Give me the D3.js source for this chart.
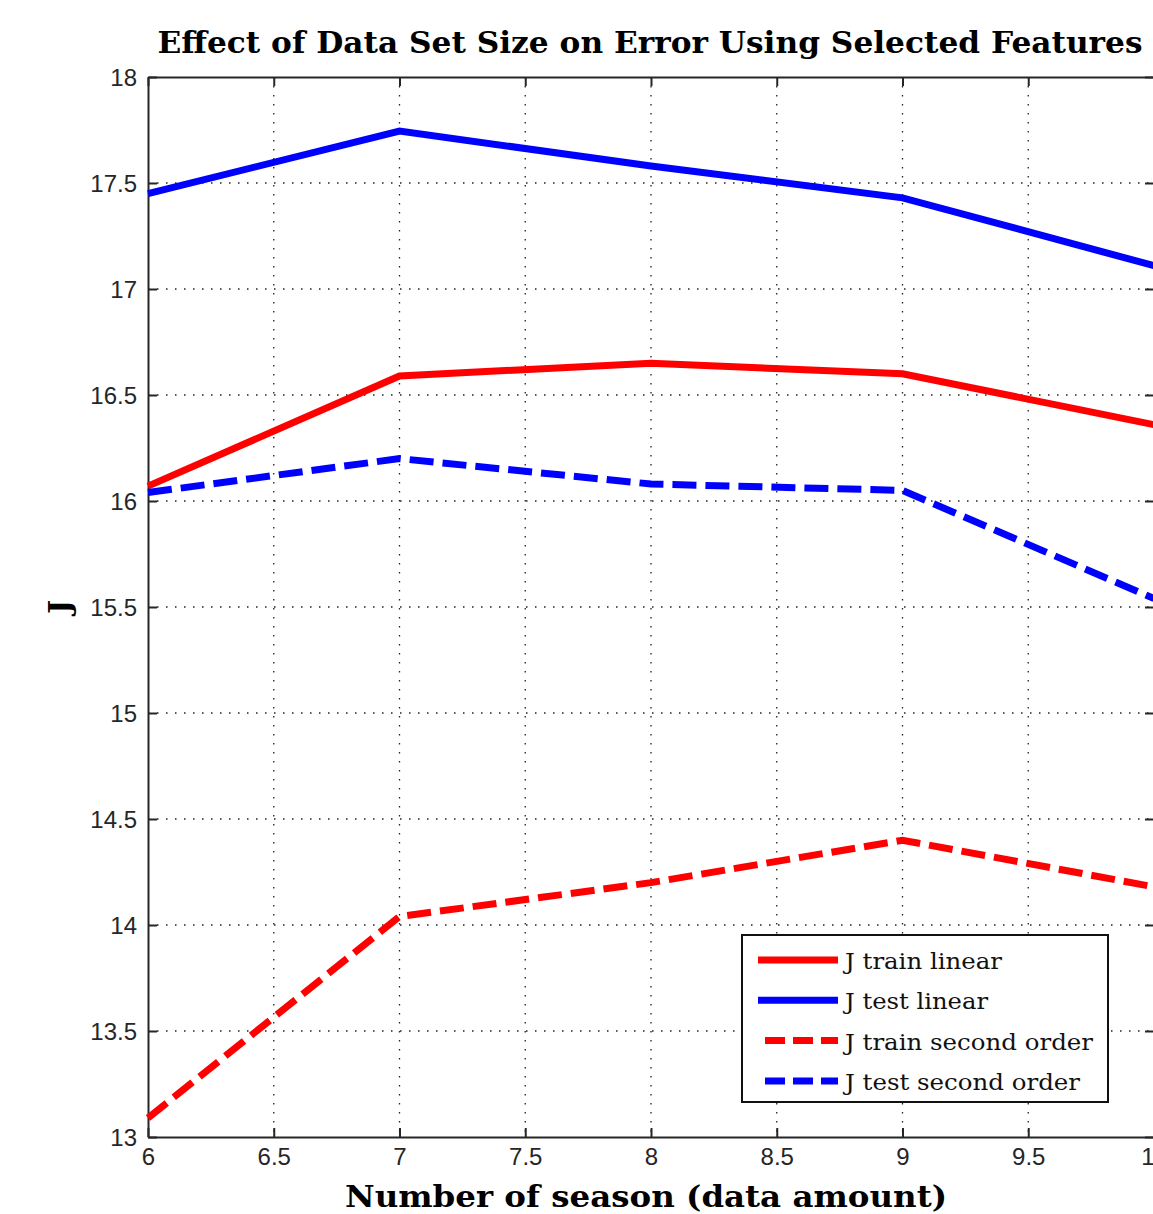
<!DOCTYPE html>
<html>
<head>
<meta charset="utf-8">
<script src="https://cdn.jsdelivr.net/npm/d3@7"></script>
<style>
  html, body { margin: 0; padding: 0; background: #fff; overflow: hidden; }
  svg { display: block; }
</style>
</head>
<body>
<svg id="chart" width="1153" height="1214"></svg>
<script>
// ---- data ----
const seasons = [6, 7, 8, 9, 10];
const jTrainLinear = [16.07, 16.59, 16.65, 16.60, 16.36];
const jTestLinear = [17.45, 17.745, 17.58, 17.43, 17.11];
const jTrainSecond = [13.09, 14.04, 14.20, 14.40, 14.18];
const jTestSecond = [16.04, 16.20, 16.08, 16.05, 15.54];
const seriesNames = ["J train linear", "J test linear", "J train second order", "J test second order"];
const xTicks = [6, 6.5, 7, 7.5, 8, 8.5, 9, 9.5, 10];
const yTicks = [13, 13.5, 14, 14.5, 15, 15.5, 16, 16.5, 17, 17.5, 18];
const titleText = "Effect of Data Set Size on Error Using Selected Features";
const xLabel = "Number of season (data amount)";
const yLabel = "J";

const series = [
  { name: seriesNames[0], values: jTrainLinear, color: "#ff0000", dash: null },
  { name: seriesNames[1], values: jTestLinear, color: "#0000ff", dash: null },
  { name: seriesNames[2], values: jTrainSecond, color: "#ff0000", dash: "24,9" },
  { name: seriesNames[3], values: jTestSecond, color: "#0000ff", dash: "24,9" }
];

const svg = d3.select("#chart");
const L = 148, R = 1154, T = 77, B = 1137;
const x = d3.scaleLinear().domain([6, 10]).range([L, R]);
const y = d3.scaleLinear().domain([13, 18]).range([B, T]);

// grid
const grid = svg.append("g").attr("stroke", "#222").attr("stroke-width", 1.3).attr("stroke-dasharray", "1.5,7.5");
grid.selectAll(".gx").data(xTicks.slice(1, -1)).join("line")
  .attr("x1", d => x(d)).attr("x2", d => x(d)).attr("y1", T).attr("y2", B);
grid.selectAll(".gy").data(yTicks.slice(1, -1)).join("line")
  .attr("y1", d => y(d)).attr("y2", d => y(d)).attr("x1", L).attr("x2", R);

// axes with inward ticks
const axStyle = g => {
  g.select(".domain").attr("stroke", "#262626").attr("stroke-width", 2);
  g.selectAll(".tick line").attr("stroke", "#262626").attr("stroke-width", 2);
  g.selectAll(".tick text").attr("fill", "#262626")
    .attr("font-family", "'Liberation Sans', Arial, sans-serif").attr("font-size", 24);
};
svg.append("g").attr("transform", `translate(0,${B})`)
  .call(d3.axisBottom(x).tickValues(xTicks).tickFormat(d3.format("")).tickSizeInner(-9).tickSizeOuter(0).tickPadding(11))
  .call(axStyle);
svg.append("g").attr("transform", `translate(0,${T})`)
  .call(d3.axisTop(x).tickValues(xTicks).tickFormat("").tickSizeInner(-9).tickSizeOuter(0))
  .call(axStyle);
svg.append("g").attr("transform", `translate(${L},0)`)
  .call(d3.axisLeft(y).tickValues(yTicks).tickFormat(d3.format("")).tickSizeInner(-9).tickSizeOuter(0).tickPadding(11))
  .call(axStyle)
  .selectAll(".tick text").attr("dy", "0.36em");
svg.append("g").attr("transform", `translate(${R},0)`)
  .call(d3.axisRight(y).tickValues(yTicks).tickFormat("").tickSizeInner(-9).tickSizeOuter(0))
  .call(axStyle);

// lines
const lineGen = d3.line().x((d, i) => x(seasons[i])).y(d => y(d));
svg.append("g").selectAll("path").data(series).join("path")
  .attr("d", d => lineGen(d.values))
  .attr("fill", "none")
  .attr("stroke", d => d.color)
  .attr("stroke-width", 7)
  .attr("stroke-dasharray", d => d.dash)
  .attr("stroke-linejoin", "miter");

// title
svg.append("text").attr("x", 650).attr("y", 53).attr("text-anchor", "middle")
  .attr("font-family", "'DejaVu Serif', serif").attr("font-weight", "bold").attr("font-size", 29)
  .attr("textLength", 985).attr("lengthAdjust", "spacingAndGlyphs")
  .text(titleText);

// x label
svg.append("text").attr("x", 646).attr("y", 1207).attr("text-anchor", "middle")
  .attr("font-family", "'DejaVu Serif', serif").attr("font-weight", "bold").attr("font-size", 30)
  .attr("textLength", 602).attr("lengthAdjust", "spacingAndGlyphs")
  .text(xLabel);

// y label
svg.append("text").attr("transform", "translate(70,607) rotate(-90)").attr("text-anchor", "middle")
  .attr("font-family", "'DejaVu Serif', serif").attr("font-weight", "bold").attr("font-size", 30)
  .text(yLabel);

// legend
const lg = svg.append("g");
lg.append("rect").attr("x", 742).attr("y", 935).attr("width", 366).attr("height", 167)
  .attr("fill", "#fff").attr("stroke", "#111").attr("stroke-width", 2);
const rows = lg.selectAll("g.row").data(series).join("g")
  .attr("transform", (d, i) => `translate(0,${960 + i * 40.3})`);
rows.append("line")
  .attr("x1", d => d.dash ? 765 : 758).attr("x2", 838).attr("y1", 0).attr("y2", 0)
  .attr("stroke", d => d.color).attr("stroke-width", 7)
  .attr("stroke-dasharray", d => d.dash ? "20,8" : null);
rows.append("text").attr("x", 845).attr("y", 9)
  .attr("font-family", "'DejaVu Serif', serif").attr("font-size", 23)
  .attr("fill", "#111")
  .text(d => d.name)
  .each(function(d) {
    const target = { "J train linear": 157, "J test linear": 143, "J train second order": 248, "J test second order": 235 }[d.name];
    d3.select(this).attr("textLength", target).attr("lengthAdjust", "spacingAndGlyphs");
  });
</script>
</body>
</html>
